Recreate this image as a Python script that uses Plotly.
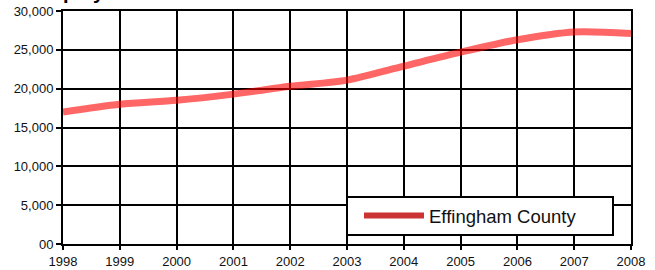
import plotly.graph_objects as go

years = [1998, 1999, 2000, 2001, 2002, 2003, 2004, 2005, 2006, 2007, 2008]
employment = [17000, 18000, 18500, 19300, 20300, 21100, 22900, 24700, 26300, 27300, 27100]
series_name = "Effingham County"
y_tick_vals = [0, 5000, 10000, 15000, 20000, 25000, 30000]
y_tick_text = ["00", "5,000", "10,000", "15,000", "20,000", "25,000", "30,000"]
title_text = "Employment"

fig = go.Figure()
fig.add_trace(go.Scatter(
    x=years, y=employment, mode="lines", showlegend=False,
    line=dict(color="rgba(255,0,0,0.6)", width=7, shape="spline", smoothing=0.8),
))
fig.add_trace(go.Scatter(
    x=[None], y=[None], mode="lines", name=series_name,
    line=dict(color="#cc3333", width=6),
))

axis_common = dict(
    showgrid=True, gridcolor="black", gridwidth=2,
    showline=True, linecolor="black", linewidth=2, mirror=True,
    ticks="outside", tickcolor="black", tickwidth=2,
    zeroline=False, automargin=False,
    tickfont=dict(size=13, color="#111"),
)

fig.update_layout(
    width=655, height=270,
    margin=dict(l=63, r=24, t=11, b=26, autoexpand=False),
    paper_bgcolor="white", plot_bgcolor="white",
    font=dict(family="Liberation Sans, Arial, sans-serif", size=13, color="#111"),
    xaxis=dict(range=[1998, 2008], tickvals=years, ticktext=[str(y) for y in years],
               ticklen=4, **axis_common),
    yaxis=dict(range=[0, 30000], tickvals=y_tick_vals, ticktext=y_tick_text,
               ticklen=5, **axis_common),
    legend=dict(
        x=(359 - 63) / 568, y=(244 - 216) / 233, xanchor="left", yanchor="middle",
        bgcolor="rgba(0,0,0,0)", borderwidth=0,
        font=dict(size=18.5, color="#111"), itemwidth=60,
    ),
    shapes=[dict(
        type="rect", xref="paper", yref="paper", layer="above",
        x0=(347 - 63) / 568, x1=(613 - 63) / 568,
        y0=(244 - 235) / 233, y1=(244 - 197) / 233,
        fillcolor="white", line=dict(color="black", width=2),
    )],
    annotations=[dict(
        text="<b>" + title_text + "</b>", xref="paper", yref="paper",
        x=-0.0576, y=1.0, xanchor="left", yanchor="bottom", yshift=6,
        showarrow=False, font=dict(size=20, color="black"),
    )],
)

fig.write_html("out.html", config={"displayModeBar": False},
               post_script="document.body.style.margin='0';")
